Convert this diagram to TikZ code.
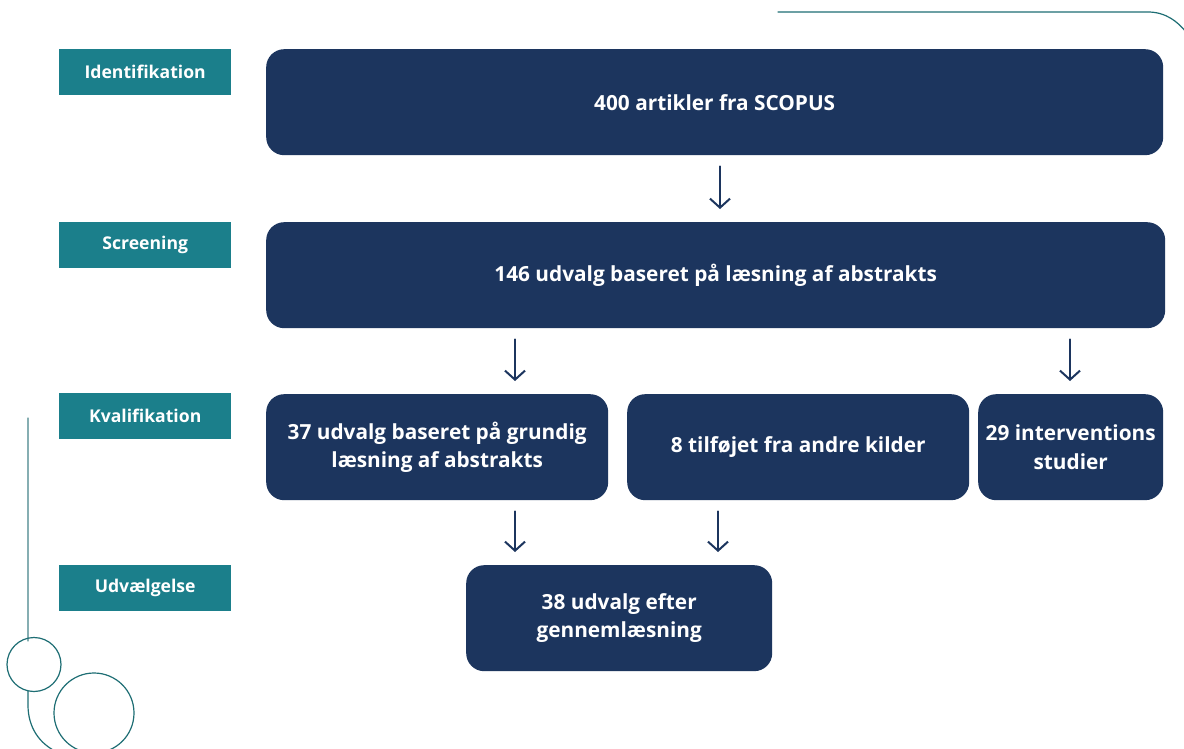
\documentclass[tikz,border=0pt]{standalone}
\usepackage{fontspec}
\setmainfont{Open Sans}
\usetikzlibrary{arrows.meta}
\definecolor{navy}{HTML}{1C355E}
\definecolor{tealbox}{HTML}{1B7F8B}
\definecolor{tealline}{HTML}{1E6E74}
\definecolor{greyline}{HTML}{86AEB2}
\tikzset{
  stage/.style={fill=tealbox, text=white, minimum width=172pt, minimum height=46pt,
    anchor=north west, inner sep=0pt, font=\fontsize{17.6}{20}\selectfont\bfseries},
  box/.style={fill=navy, text=white, rounded corners=18pt, minimum height=106pt,
    anchor=north west, align=center, inner sep=0pt,
    font=\fontsize{20.8}{28.5}\selectfont\bfseries},
  arr/.style={draw=navy, line width=2pt, shorten <=11pt, shorten >=13pt,
    -{Straight Barb[length=9pt,width=20pt]}},
}
\begin{document}
\begin{tikzpicture}[x=1pt, y=-1pt, line cap=round, line join=round]
  \useasboundingbox[fill=white] (0,0) rectangle (1184,749);
  % decorations
  \draw[tealline, line width=1.2pt] (778,12) -- (1148,12) .. controls (1166,12) and (1178,22) .. (1186,32);
  \draw[greyline, line width=1.2pt] (28,418) -- (28,641);
  \draw[tealline, line width=1.2pt] (34,664.5) circle (27);
  \draw[tealline, line width=1.2pt] (28,691) -- (28,705) .. controls (28,728) and (40,744) .. (57,752);
  \draw[tealline, line width=1.2pt] (94,713) circle (40);
  % stages
  \node[stage] (s1) at (59,49) {Identifikation};
  \node[stage] (s2) at (59,222) {Screening};
  \node[stage] (s3) at (59,393) {Kvalifikation};
  \node[stage] (s4) at (59,565) {Udvælgelse};
  % boxes
  \node[box, minimum width=897pt] (b1) at (266,49) {400 artikler fra SCOPUS};
  \node[box, minimum width=899pt] (b2) at (266,222) {146 udvalg baseret på læsning af abstrakts};
  \node[box, minimum width=342pt] (b3a) at (266,394) {37 udvalg baseret på grundig\\læsning af abstrakts};
  \node[box, minimum width=342pt] (b3b) at (627,394) {8 tilføjet fra andre kilder};
  \node[box, minimum width=185pt] (b3c) at (978,394) {29 interventions\\studier};
  \node[box, minimum width=306pt] (b4) at (466,565) {38 udvalg efter\\gennemlæsning};
  % arrow columns
  \coordinate (c1) at (720,0);
  \coordinate (c2) at (515,0);
  \coordinate (c3) at (1070,0);
  \coordinate (c4) at (718,0);
  \draw[arr] (b1.south -| c1) -- (b2.north -| c1);
  \draw[arr] (b2.south -| c2) -- (b3a.north -| c2);
  \draw[arr] (b2.south -| c3) -- (b3c.north -| c3);
  \draw[arr] (b3a.south -| c2) -- (b4.north -| c2);
  \draw[arr] (b3b.south -| c4) -- (b4.north -| c4);
\end{tikzpicture}
\end{document}
